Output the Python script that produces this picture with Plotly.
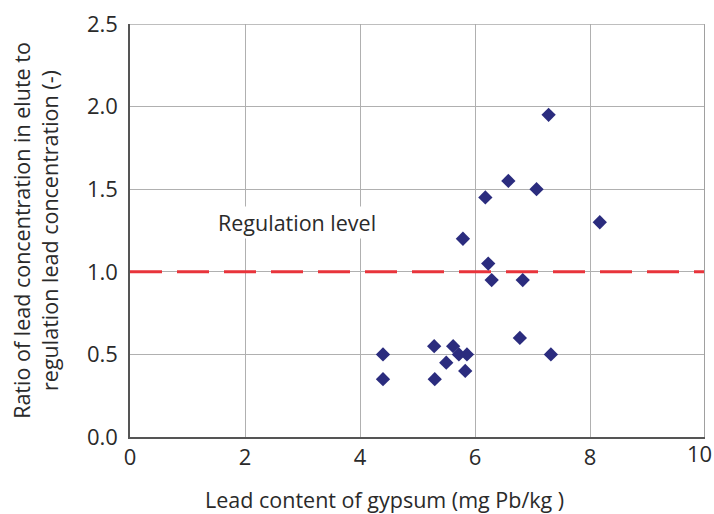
import plotly.graph_objects as go

lead_content = [4.40, 4.40, 5.29, 5.30, 5.50, 5.62, 5.72, 5.86, 5.83, 5.79,
                6.18, 6.23, 6.29, 6.58, 7.07, 7.28, 6.78, 6.83, 7.32, 8.17]
ratio = [0.50, 0.35, 0.55, 0.35, 0.45, 0.55, 0.50, 0.50, 0.40, 1.20,
         1.45, 1.05, 0.95, 1.55, 1.50, 1.95, 0.60, 0.95, 0.50, 1.30]
regulation_x = [0, 10]
regulation_y = [1.0, 1.0]
x_ticks = [0, 2, 4, 6, 8, 10]
x_tick_labels = ["0", "2", "4", "6", "8", "10"]
y_ticks = [0.0, 0.5, 1.0, 1.5, 2.0, 2.5]

FONT = "Open Sans"
TXT = "#2a2a2a"

fig = go.Figure()
fig.add_trace(go.Scatter(
    x=regulation_x, y=regulation_y, mode="lines",
    line=dict(color="#E8343B", width=3, dash="32px,15px"),
    hoverinfo="skip", showlegend=False))
fig.add_trace(go.Scatter(
    x=lead_content, y=ratio, mode="markers",
    marker=dict(symbol="diamond", size=11, color="#2B2C7E"),
    showlegend=False))

fig.add_annotation(x=2.9, y=1.30, text="Regulation level", showarrow=False,
                   bgcolor="white", font=dict(family=FONT, size=21.5, color=TXT))

# x-axis title (placed slightly left of the plot centre, as in the original)
fig.add_annotation(xref="paper", yref="paper", x=0.443, y=-0.1525,
                   xanchor="center", yanchor="middle", showarrow=False,
                   text="Lead content of gypsum (mg Pb/kg )",
                   font=dict(family=FONT, size=21.5, color=TXT))

# the last x tick label sits at the right edge; draw it nudged inward so it stays visible
axis_labels = list(x_tick_labels[:-1]) + [""]
fig.add_annotation(xref="x", yref="paper", x=x_ticks[-1], y=0, xshift=-6, yshift=1,
                   xanchor="center", yanchor="top", showarrow=False,
                   text=x_tick_labels[-1], font=dict(family=FONT, size=22, color=TXT))

fig.update_layout(
    width=714, height=514,
    margin=dict(l=130, r=9, t=24, b=77),
    paper_bgcolor="white", plot_bgcolor="white",
    font=dict(family=FONT, size=21, color=TXT),
    xaxis=dict(range=[0, 10], tickvals=x_ticks, ticktext=axis_labels,
               showgrid=True, gridcolor="#b0b0b0", gridwidth=1,
               showline=True, linecolor="#555555", linewidth=1.5, mirror=False,
               zeroline=False, ticks="", ticklen=0,
               automargin=False,
               tickfont=dict(family=FONT, size=22, color=TXT)),
    yaxis=dict(range=[0, 2.5], tickvals=y_ticks, ticktext=[f"{v:.1f}" for v in y_ticks],
               showgrid=True, gridcolor="#b0b0b0", gridwidth=1,
               showline=True, linecolor="#555555", linewidth=1.5,
               zeroline=False, ticks="", ticklen=0, ticklabelstandoff=6,
               automargin=False,
               title=dict(text="Ratio of lead concentration in elute to<br>regulation lead concentration (-)",
                          standoff=22, font=dict(family=FONT, size=21.5, color=TXT)),
               tickfont=dict(family=FONT, size=22, color=TXT)),
)
# right and top frame via shapes
fig.add_shape(type="line", xref="x", yref="paper", x0=10, x1=10, y0=0, y1=1,
              line=dict(color="#a0a0a0", width=2))
fig.add_shape(type="line", xref="paper", yref="y", x0=0, x1=1, y0=2.5, y1=2.5,
              line=dict(color="#a8a8a8", width=1.5))

fig.write_html("out.html")
